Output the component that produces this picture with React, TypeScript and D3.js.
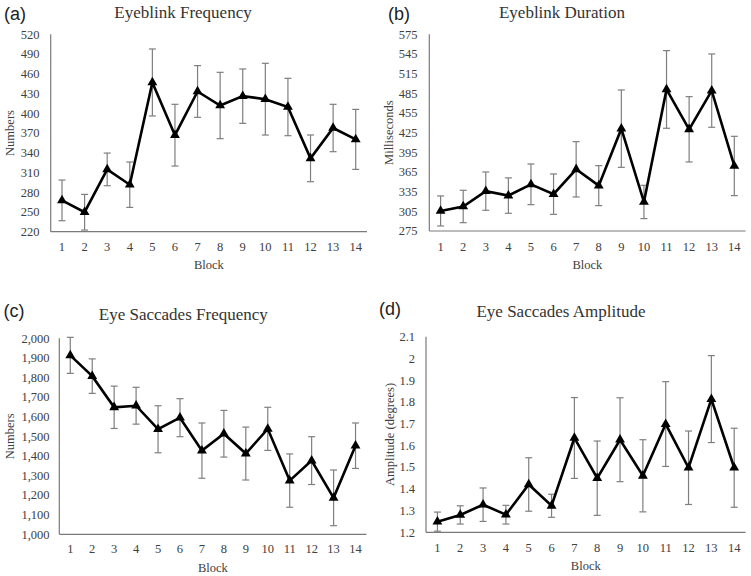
import React from "react";
import * as d3 from "d3";

const blocks = ["1","2","3","4","5","6","7","8","9","10","11","12","13","14"];

const blinkFreq = [267.6, 249.6, 314.7, 291.4, 446.8, 366.7, 433.1, 411.8, 426, 421.4, 409.5, 331.5, 377.6, 360.3];
const blinkFreqErr = [30.9, 27.1, 24.8, 34.5, 50.9, 46.9, 39.3, 50.4, 41.3, 54.5, 43.6, 35.5, 36, 45.6];
const blinkFreqTicks = [220, 250, 280, 310, 340, 370, 400, 430, 460, 490, 520];

const blinkDur = [305.6, 312.4, 335.8, 329, 346.2, 331.2, 369.1, 344.2, 431.1, 319.3, 490.9, 430.1, 489.1, 374.2];
const blinkDurErr = [22.9, 24.7, 29.2, 27, 31, 30.8, 42.2, 30.5, 59, 25.4, 59.2, 49.8, 55.9, 45.2];
const blinkDurTicks = [275, 305, 335, 365, 395, 425, 455, 485, 515, 545, 575];

const sacFreq = [1913, 1807, 1648, 1656, 1536, 1595, 1427, 1513, 1412, 1538, 1274, 1376, 1186, 1452];
const sacFreqErr = [92, 88, 108, 94, 120, 97, 141, 119, 135, 110, 136, 122, 142, 116];
const sacFreqTicks = [1000, 1100, 1200, 1300, 1400, 1500, 1600, 1700, 1800, 1900, 2000];

const sacAmp = [1.249, 1.28, 1.327, 1.281, 1.42, 1.322, 1.634, 1.449, 1.626, 1.46, 1.698, 1.497, 1.813, 1.497];
const sacAmpErr = [0.044, 0.042, 0.077, 0.043, 0.123, 0.053, 0.186, 0.171, 0.193, 0.166, 0.195, 0.169, 0.2, 0.182];
const sacAmpTicks = [1.2, 1.3, 1.4, 1.5, 1.6, 1.7, 1.8, 1.9, 2, 2.1];

type PanelCfg = {
  tag: string; title: string; ylabel: string;
  values: number[]; errs: number[]; ticks: number[];
  fmt: (v: number) => string;
  x0: number; x1: number; yTop: number; yBot: number;
  tickRight: number; ylabX: number;
  tagX: number; tagY: number; titleX: number; titleY: number;
  xTickY: number; blockY: number;
};

const panels: PanelCfg[] = [
  { tag: "(a)", title: "Eyeblink Frequency", ylabel: "Numbers",
    values: blinkFreq, errs: blinkFreqErr, ticks: blinkFreqTicks, fmt: d3.format("d"),
    x0: 50.7, x1: 367, yTop: 34.3, yBot: 231.7, tickRight: 39.5, ylabX: 10,
    tagX: 4, tagY: 20, titleX: 183, titleY: 17.5, xTickY: 251, blockY: 269.3 },
  { tag: "(b)", title: "Eyeblink Duration", ylabel: "Milliseconds",
    values: blinkDur, errs: blinkDurErr, ticks: blinkDurTicks, fmt: d3.format("d"),
    x0: 429.3, x1: 745.6, yTop: 34.3, yBot: 231, tickRight: 417.5, ylabX: 388.5,
    tagX: 388, tagY: 20, titleX: 562, titleY: 17.5, xTickY: 251, blockY: 269.3 },
  { tag: "(c)", title: "Eye Saccades Frequency", ylabel: "Numbers",
    values: sacFreq, errs: sacFreqErr, ticks: sacFreqTicks, fmt: d3.format(","),
    x0: 59.3, x1: 366.5, yTop: 338.3, yBot: 534.3, tickRight: 49.5, ylabX: 10,
    tagX: 3.5, tagY: 317, titleX: 183.3, titleY: 319.5, xTickY: 553.3, blockY: 571.7 },
  { tag: "(d)", title: "Eye Saccades Amplitude", ylabel: "Amplitude (degrees)",
    values: sacAmp, errs: sacAmpErr, ticks: sacAmpTicks, fmt: (v: number) => String(v),
    x0: 426, x1: 745.6, yTop: 336.7, yBot: 532.3, tickRight: 415, ylabX: 389.5,
    tagX: 379, tagY: 315, titleX: 561, titleY: 316.7, xTickY: 551.7, blockY: 570 },
];

const serif = "'Liberation Serif', 'Times New Roman', serif";
const sans = "'Liberation Sans', Arial, sans-serif";

function Panel({ p }: { p: PanelCfg }) {
  const x = d3.scaleBand<string>().domain(blocks).range([p.x0, p.x1]).padding(0);
  const cx = (b: string) => (x(b) as number) + x.bandwidth() / 2;
  const y = d3.scaleLinear()
    .domain([p.ticks[0], p.ticks[p.ticks.length - 1]])
    .range([p.yBot, p.yTop]);
  const line = d3.line<number>()
    .x((_, i) => cx(blocks[i]))
    .y((v) => y(v));
  const tri = d3.symbol().type(d3.symbolTriangle).size(42)();
  const cap = 3.5;
  return (
    <g>
      <text x={p.tagX} y={p.tagY} fontFamily={sans} fontSize={18} fill="#222">{p.tag}</text>
      <text x={p.titleX} y={p.titleY} fontFamily={serif} fontSize={17} fill="#333" textAnchor="middle">{p.title}</text>
      {p.ticks.map((t) => (
        <text key={t} x={p.tickRight} y={y(t)} dy="0.35em" fontFamily={serif} fontSize={12.5}
          fill="#404040" textAnchor="end">{p.fmt(t)}</text>
      ))}
      <text transform={`translate(${p.ylabX},${(p.yTop + p.yBot) / 2}) rotate(-90)`} dy="0.35em"
        fontFamily={serif} fontSize={12.5} fill="#404040" textAnchor="middle">{p.ylabel}</text>
      {blocks.map((b) => (
        <text key={b} x={cx(b)} y={p.xTickY} fontFamily={serif} fontSize={12.5}
          fill="#404040" textAnchor="middle">{b}</text>
      ))}
      <text x={(p.x0 + p.x1) / 2} y={p.blockY} fontFamily={serif} fontSize={12.5}
        fill="#404040" textAnchor="middle">Block</text>
      <line x1={p.x0} x2={p.x0} y1={p.yTop} y2={p.yBot} stroke="#7a7a7a" strokeWidth={1.2} />
      <line x1={p.x0} x2={p.x1} y1={p.yBot} y2={p.yBot} stroke="#7a7a7a" strokeWidth={1.2} />
      {p.values.map((v, i) => {
        const xc = cx(blocks[i]);
        const yt = y(v + p.errs[i]);
        const yb = y(v - p.errs[i]);
        return (
          <g key={i} stroke="#7f7f7f" strokeWidth={1.2}>
            <line x1={xc} x2={xc} y1={yt} y2={yb} />
            <line x1={xc - cap} x2={xc + cap} y1={yt} y2={yt} />
            <line x1={xc - cap} x2={xc + cap} y1={yb} y2={yb} />
          </g>
        );
      })}
      <path d={line(p.values) || ""} fill="none" stroke="#000" strokeWidth={2.6} strokeLinejoin="miter" />
      {p.values.map((v, i) => (
        <path key={i} d={tri || ""} transform={`translate(${cx(blocks[i])},${y(v)})`} fill="#000" />
      ))}
    </g>
  );
}

export default function App() {
  return (
    <svg width={751} height={576} style={{ position: "absolute", left: 0, top: 0, background: "#fff" }}>
      <rect width={751} height={576} fill="#fff" />
      {panels.map((p) => <Panel key={p.tag} p={p} />)}
    </svg>
  );
}
